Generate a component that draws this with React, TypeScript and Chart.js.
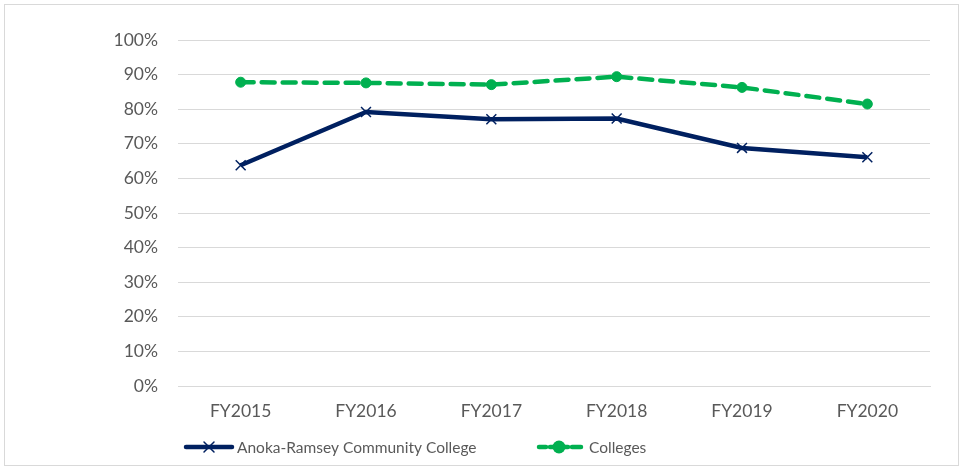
import React, { useEffect, useRef } from "react";
import { Chart, registerables } from "chart.js";

Chart.register(...registerables);

const categories = ["FY2015", "FY2016", "FY2017", "FY2018", "FY2019", "FY2020"];
const anokaValues = [63.8, 79.2, 77.1, 77.3, 68.8, 66.1];
const collegesValues = [87.8, 87.6, 87.1, 89.4, 86.3, 81.5];
const seriesNames = ["Anoka-Ramsey Community College", "Colleges"];

const NAVY = "#002060";
const GREEN = "#00B050";
const TEXT = "#595959";
const GRID = "#d9d9d9";
const FONT = "Lato, 'Open Sans', sans-serif";

const legendPlugin = {
  id: "customLegend",
  afterDraw(chart: any) {
    const ctx = chart.ctx;
    const y = 442;
    ctx.save();
    ctx.font = `15.5px ${FONT}`;
    ctx.fillStyle = TEXT;
    ctx.textBaseline = "middle";
    ctx.lineCap = "round";
    // item 1
    ctx.strokeStyle = NAVY;
    ctx.lineWidth = 4.5;
    ctx.beginPath();
    ctx.moveTo(181, y);
    ctx.lineTo(227, y);
    ctx.stroke();
    ctx.lineWidth = 1.5;
    ctx.beginPath();
    ctx.moveTo(199, y - 5);
    ctx.lineTo(209, y + 5);
    ctx.moveTo(209, y - 5);
    ctx.lineTo(199, y + 5);
    ctx.stroke();
    ctx.fillText(seriesNames[0], 232, y + 1);
    // item 2
    ctx.strokeStyle = GREEN;
    ctx.lineWidth = 4.5;
    ctx.beginPath();
    ctx.moveTo(534, y);
    ctx.lineTo(541, y);
    ctx.moveTo(567, y);
    ctx.lineTo(576, y);
    ctx.stroke();
    ctx.fillStyle = GREEN;
    ctx.beginPath();
    ctx.arc(554, y, 6.5, 0, Math.PI * 2);
    ctx.fill();
    ctx.beginPath();
    ctx.moveTo(545, y);
    ctx.lineTo(563, y);
    ctx.stroke();
    ctx.fillStyle = TEXT;
    ctx.fillText(seriesNames[1], 584, y + 1);
    ctx.restore();
  },
};

export default function App() {
  const ref = useRef<HTMLCanvasElement>(null);
  useEffect(() => {
    document.body.style.margin = "0";
    const chart = new Chart(ref.current!, {
      type: "line",
      data: {
        labels: categories,
        datasets: [
          {
            label: seriesNames[0],
            data: anokaValues,
            borderColor: NAVY,
            backgroundColor: NAVY,
            borderWidth: 4.5,
            pointStyle: "crossRot",
            pointRadius: 7,
            pointBorderWidth: 1.5,
            pointBorderColor: NAVY,
            tension: 0,
          },
          {
            label: seriesNames[1],
            data: collegesValues,
            borderColor: GREEN,
            backgroundColor: GREEN,
            borderWidth: 4.5,
            borderDash: [13, 8],
            borderCapStyle: "round",
            pointStyle: "circle",
            pointRadius: 5,
            pointBorderWidth: 1,
            tension: 0,
          },
        ],
      },
      options: {
        responsive: false,
        animation: false,
        layout: { padding: { top: 35, right: 28, bottom: 0, left: 0 } },
        plugins: { legend: { display: false }, tooltip: { enabled: false } },
        scales: {
          x: {
            offset: true,
            grid: { display: false, drawTicks: false },
            border: { display: true, color: GRID, width: 1 },
            ticks: { color: TEXT, font: { family: FONT, size: 17.5 }, padding: 15 },
            afterFit: (s: any) => {
              s.height = 79;
            },
          },
          y: {
            min: 0,
            max: 100,
            ticks: {
              stepSize: 10,
              color: TEXT,
              font: { family: FONT, size: 17.5 },
              padding: 20,
              callback: (v: any) => `${v}%`,
            },
            grid: { color: GRID, drawTicks: false, lineWidth: 1 },
            border: { display: false },
            afterFit: (s: any) => {
              s.width = 173;
            },
          },
        },
      },
      plugins: [legendPlugin],
    });
    return () => chart.destroy();
  }, []);
  return (
    <div
      style={{
        position: "absolute",
        left: 4,
        top: 4,
        width: 953,
        height: 460,
        border: `1px solid ${GRID}`,
        background: "#fff",
      }}
    >
      <canvas ref={ref} width={953} height={460} />
    </div>
  );
}
